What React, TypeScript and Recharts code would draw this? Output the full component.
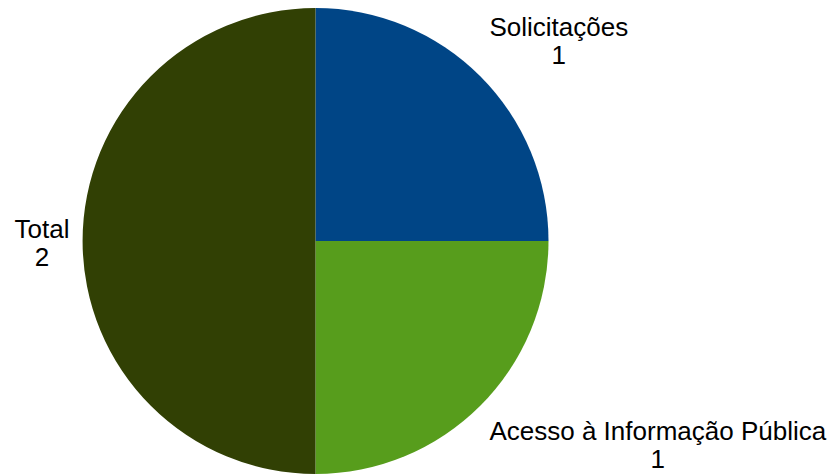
import React from 'react';
import { PieChart, Pie, Cell } from 'recharts';

const categories = ['Solicitações', 'Acesso à Informação Pública', 'Total'];
const values = [1, 1, 2];
const colors = ['#004586', '#579d1c', '#314004'];

const data = categories.map((name, i) => ({ name, value: values[i] }));

const FONT_SIZE = 26;
const FONT = "'Liberation Sans', Arial, sans-serif";
const LINE_H = 28;
const ASCENT = 25;
const RADIAN = Math.PI / 180;

let ctx: CanvasRenderingContext2D | null = null;
const measure = (s: string) => {
    if (!ctx) ctx = document.createElement('canvas').getContext('2d');
    if (!ctx) return s.length * FONT_SIZE * 0.5;
    ctx.font = `${FONT_SIZE}px ${FONT}`;
    return ctx.measureText(s).width;
};

// LibreOffice-style label: text box placed just outside the slice, corner on the mid angle
const renderLabel = (props: any) => {
    const { cx, cy, midAngle, outerRadius, name, value } = props;
    const r = outerRadius + 13;
    const cos = Math.cos(-midAngle * RADIAN);
    const sin = Math.sin(-midAngle * RADIAN);
    const px = cx + r * cos;
    const py = cy + r * sin;
    const lines = [String(name), String(value)];
    const w = Math.max(...lines.map(measure));
    const h = lines.length * LINE_H;
    const left = Math.abs(cos) < 0.01 ? px - w / 2 : cos > 0 ? px : px - w;
    const top = Math.abs(sin) < 0.01 ? py - h / 2 : sin > 0 ? py : py - h;
    const mx = left + w / 2;
    return (
        <text textAnchor="middle" fill="#000" fontSize={FONT_SIZE} fontFamily={FONT}>
            {lines.map((l, i) => (
                <tspan key={i} x={mx} y={top + ASCENT + i * LINE_H}>{l}</tspan>
            ))}
        </text>
    );
};

export default function App() {
    return (
        <div style={{ position: 'fixed', left: 0, top: 0, width: 836, height: 475, background: '#fff' }}>
            <PieChart width={836} height={475} margin={{ top: 0, right: 0, bottom: 0, left: 0 }}>
                <Pie
                    data={data}
                    dataKey="value"
                    nameKey="name"
                    cx={315.5}
                    cy={241}
                    outerRadius={233}
                    startAngle={90}
                    endAngle={-270}
                    stroke="none"
                    label={renderLabel}
                    labelLine={false}
                    isAnimationActive={false}
                >
                    {data.map((d, i) => (
                        <Cell key={d.name} fill={colors[i]} />
                    ))}
                </Pie>
            </PieChart>
        </div>
    );
}
